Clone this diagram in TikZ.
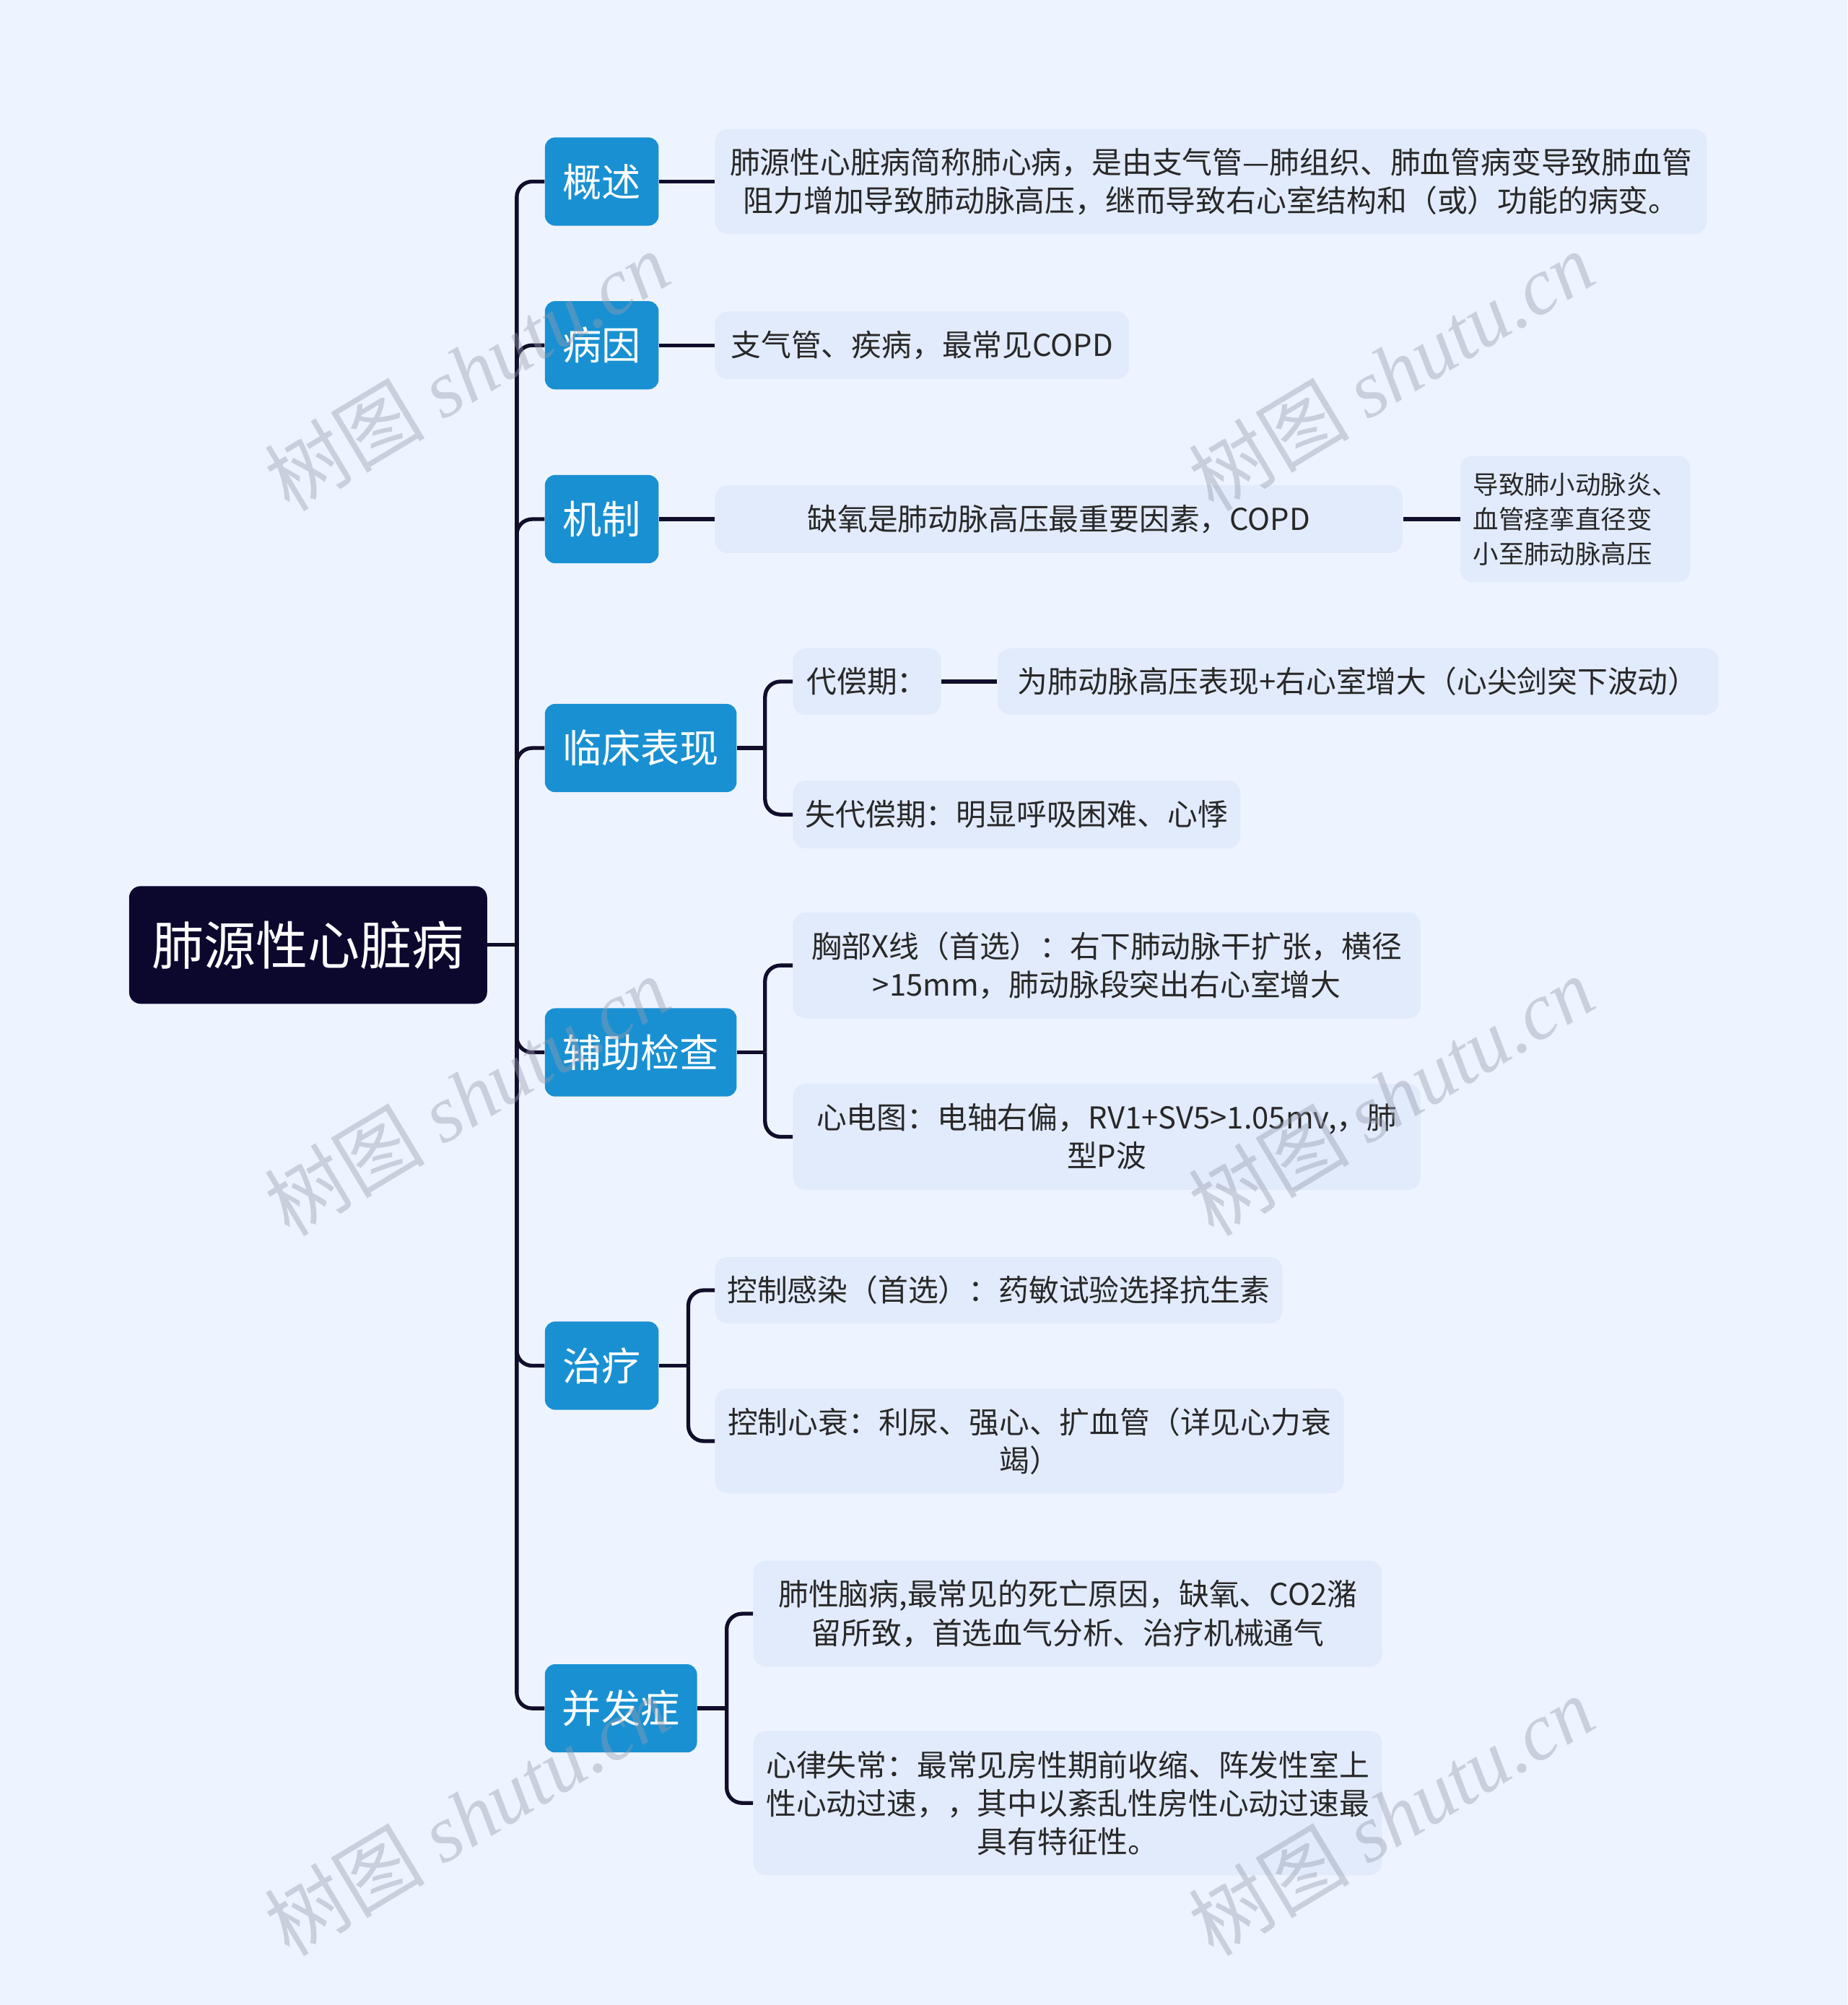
\documentclass[tikz,border=0pt]{standalone}
\usepackage{fontspec}
\setmainfont{Noto Sans CJK SC}
\newfontfamily\wmfont{Liberation Serif}
\usetikzlibrary{calc}
\definecolor{BgClr}{RGB}{238,244,255}
\definecolor{RootClr}{RGB}{11,7,45}
\definecolor{TopicClr}{RGB}{25,144,210}
\definecolor{LeafClr}{RGB}{225,235,252}
\definecolor{LineClr}{RGB}{16,14,42}
\definecolor{TextClr}{RGB}{40,40,40}
\definecolor{MarkClr}{RGB}{150,156,172}

\begin{document}
\begin{tikzpicture}[x=1pt,y=-1pt,
  root/.style={fill=RootClr,text=white,rounded corners=9pt,minimum width=280pt,minimum height=92pt,inner sep=0pt,font=\fontsize{40.7}{48}\selectfont},
  topic/.style={fill=TopicClr,text=white,rounded corners=8pt,minimum height=69pt,inner sep=0pt,anchor=west,font=\fontsize{30.6}{36}\selectfont},
  leaf/.style={fill=LeafClr,text=TextClr,rounded corners=10pt,inner sep=0pt,anchor=west,align=center,font=\fontsize{23.6}{30}\selectfont},
  leafsmall/.style={leaf,align=left,font=\fontsize{20}{27}\selectfont},
  link/.style={draw=LineClr,line width=3pt,rounded corners=12pt},
  wmark/.style={text=MarkClr,opacity=.42,rotate=31,font=\fontsize{63}{66}\selectfont}]

\fill[BgClr] (0,0) rectangle (1445,1568);

\node[root] (lung) at (241,739) {肺源性心脏病};

\node[topic,minimum width=89pt] (gaishu) at (426,142) {概述};
\node[topic,minimum width=89pt] (bingyin) at (426,270) {病因};
\node[topic,minimum width=89pt] (jizhi) at (426,406) {机制};
\node[topic,minimum width=150pt] (linchuang) at (426,585) {临床表现};
\node[topic,minimum width=150pt] (fuzhu) at (426,823) {辅助检查};
\node[topic,minimum width=89pt] (zhiliao) at (426,1068) {治疗};
\node[topic,minimum width=119pt] (bingfa) at (426,1336) {并发症};

\node[leaf,minimum width=776pt,minimum height=82pt] (gaishuA) at (559,142)
  {肺源性心脏病简称肺心病，是由支气管—肺组织、肺血管病变导致肺血管\\阻力增加导致肺动脉高压，继而导致右心室结构和（或）功能的病变。};
\node[leaf,minimum width=324pt,minimum height=53pt] (bingyinA) at (559,270) {支气管、疾病，最常见COPD};
\node[leaf,minimum width=538pt,minimum height=53pt] (jizhiA) at (559,406) {缺氧是肺动脉高压最重要因素，COPD};
\node[leafsmall,minimum width=180pt,minimum height=99pt] (jizhiB) at (1142,406)
  {导致肺小动脉炎、\\血管痉挛直径变\\小至肺动脉高压};

\node[leaf,minimum width=116pt,minimum height=52pt] (daichang) at (620,533) {代偿期：};
\node[leaf,minimum width=564pt,minimum height=52pt] (daichangA) at (780,533) {为肺动脉高压表现+右心室增大（心尖剑突下波动）};
\node[leaf,minimum width=350pt,minimum height=53pt] (shidaichang) at (620,637) {失代偿期：明显呼吸困难、心悸};

\node[leaf,minimum width=491pt,minimum height=83pt] (xray) at (620,755)
  {胸部X线（首选）：右下肺动脉干扩张，横径\\>15mm，肺动脉段突出右心室增大};
\node[leaf,minimum width=491pt,minimum height=83pt] (ecg) at (620,889)
  {心电图：电轴右偏，RV1+SV5>1.05mv,，肺\\型P波};

\node[leaf,minimum width=444pt,minimum height=52pt] (ganran) at (559,1009) {控制感染（首选）：药敏试验选择抗生素};
\node[leaf,minimum width=492pt,minimum height=82pt] (xinshuai) at (559,1127)
  {控制心衰：利尿、强心、扩血管（详见心力衰\\竭）};

\node[leaf,minimum width=492pt,minimum height=83pt] (naobing) at (589,1262)
  {肺性脑病,最常见的死亡原因，缺氧、CO2潴\\留所致，首选血气分析、治疗机械通气};
\node[leaf,minimum width=492pt,minimum height=113pt] (xinlv) at (589,1410)
  {心律失常：最常见房性期前收缩、阵发性室上\\性心动过速，，其中以紊乱性房性心动过速最\\具有特征性。};

\coordinate (lungJ) at ($(lung.east)+(23,0)$);
\coordinate (linchuangJ) at ($(linchuang.east)+(22,0)$);
\coordinate (fuzhuJ) at ($(fuzhu.east)+(22,0)$);
\coordinate (zhiliaoJ) at ($(zhiliao.east)+(23,0)$);
\coordinate (bingfaJ) at ($(bingfa.east)+(23,0)$);

\draw[link] (lung.east) -- (lungJ);
\foreach \t in {gaishu,bingyin,jizhi,linchuang,fuzhu,zhiliao,bingfa}
  \draw[link] (lungJ) |- (\t.west);

\draw[link] (gaishu.east) -- (gaishuA.west);
\draw[link] (bingyin.east) -- (bingyinA.west);
\draw[link] (jizhi.east) -- (jizhiA.west);
\draw[link] (jizhiA.east) -- (jizhiB.west);

\draw[link] (linchuang.east) -- (linchuangJ);
\draw[link] (linchuangJ) |- (daichang.west);
\draw[link] (linchuangJ) |- (shidaichang.west);
\draw[link] (daichang.east) -- (daichangA.west);

\draw[link] (fuzhu.east) -- (fuzhuJ);
\draw[link] (fuzhuJ) |- (xray.west);
\draw[link] (fuzhuJ) |- (ecg.west);

\draw[link] (zhiliao.east) -- (zhiliaoJ);
\draw[link] (zhiliaoJ) |- (ganran.west);
\draw[link] (zhiliaoJ) |- (xinshuai.west);

\draw[link] (bingfa.east) -- (bingfaJ);
\draw[link] (bingfaJ) |- (naobing.west);
\draw[link] (bingfaJ) |- (xinlv.west);

\foreach \wx/\wy [count=\i] in {365/290,1088/290,365/857,1088/857,365/1420,1088/1420}
  \node[wmark] (mark\i) at (\wx,\wy) {树图 {\wmfont\itshape shutu.cn}};

\end{tikzpicture}
\end{document}
